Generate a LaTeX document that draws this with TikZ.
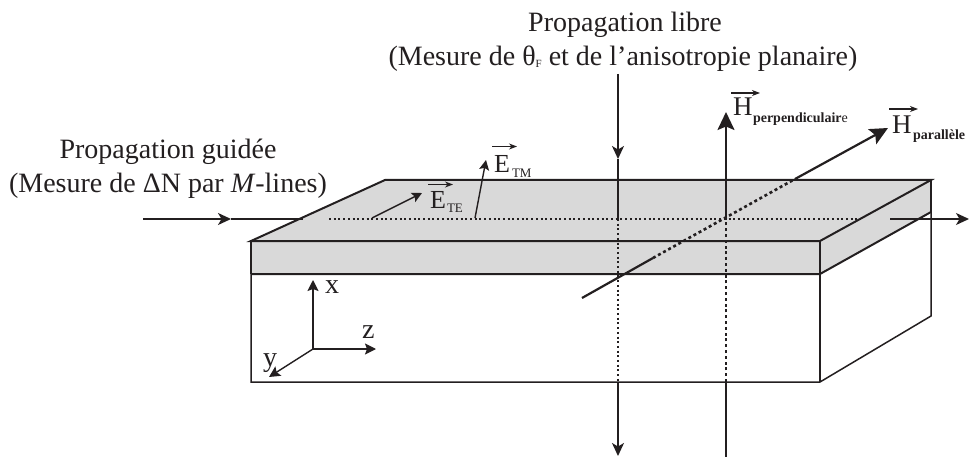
\documentclass[tikz,border=0pt]{standalone}
\usepackage{fontspec}
\setmainfont{Liberation Serif}
\usetikzlibrary{arrows.meta}
\definecolor{ink}{HTML}{231F20}
\definecolor{layer}{HTML}{D9D9D9}
\tikzset{
  x=1pt,y=-1pt,
  every node/.style={inner sep=0pt,outer sep=0pt,text=ink},
  edge/.style={draw=ink,line width=2pt},
  thinedge/.style={draw=ink,line width=1.5pt},
  ray/.style={draw=ink,line width=1.5pt},
  rayhead/.style={ray,-{Stealth[length=13pt,width=12pt,inset=3.5pt]}},
  field/.style={draw=ink,line width=2.2pt},
  fieldhead/.style={field,-{Stealth[length=18pt,width=17pt,inset=3.5pt]}},
  small/.style={draw=ink,line width=1.4pt,-{Stealth[length=10pt,width=10pt,inset=2pt]}},
  axis/.style={draw=ink,line width=1.4pt,-{Stealth[length=11pt,width=11pt,inset=2pt]}},
  rayopen/.style={draw=ink,line width=1.2pt,-{Stealth[length=8pt,width=6pt,inset=2.5pt]}},
  dotray/.style={draw=ink,line width=1.7pt,dash pattern=on 2pt off 2.7pt},
  dotfield/.style={draw=ink,line width=2.6pt,dash pattern=on 3pt off 2.8pt},
  lbl/.style={anchor=base,font=\fontsize{28}{28}\selectfont},
  axl/.style={anchor=base west,font=\fontsize{28}{28}\selectfont},
  sym/.style={anchor=base west,font=\fontsize{26}{26}\selectfont},
  symh/.style={anchor=base west,font=\fontsize{27}{27}\selectfont},
  sub/.style={anchor=base west,font=\fontsize{13}{13}\selectfont},
  subb/.style={anchor=base west,font=\fontsize{14}{14}\selectfont\bfseries}
}
\begin{document}
\begin{tikzpicture}
\useasboundingbox (0,0) rectangle (969,457);
% block corners
\coordinate (fl) at (251,241);
\coordinate (bl) at (385,180);
\coordinate (br) at (931,180);
\coordinate (fr) at (820,241);
\coordinate (flm) at (251,274);
\coordinate (frm) at (820,274);
\coordinate (brm) at (931,212);
\coordinate (flb) at (251,382);
\coordinate (frb) at (820,382);
\coordinate (brb) at (931,316);
% grey layer
\fill[layer] (fl) -- (bl) -- (br) -- (brm) -- (frm) -- (flm) -- cycle;
% guided ray
\coordinate (gin) at (143,219);
\coordinate (gmid) at (231,219);
\coordinate (gedge) at (303,219);
\coordinate (gdot) at (329,219);
\coordinate (gend) at (857,219);
\coordinate (gout) at (890,219);
\coordinate (gtip) at (969,219);
\draw[rayhead] (gin) -- (gmid);
\draw[ray] (gmid) -- (gedge);
\draw[dotray] (gdot) -- (gend);
\draw[rayhead] (gout) -- (gtip);
% free ray
\coordinate (fa) at (618,74);
\coordinate (fb) at (618,159);
\coordinate (fc) at (618,219);
\coordinate (fd) at (618,382);
\coordinate (fe) at (618,456);
\draw[rayhead] (fa) -- (fb);
\draw[ray] (fb) -- (fc);
\draw[dotray] (fc) -- (fd);
\draw[rayhead] (fd) -- (fe);
% H perpendicular
\coordinate (pa) at (726,457);
\coordinate (pb) at (726,382);
\coordinate (pc) at (726,219);
\coordinate (pd) at (726,112);
\draw[field] (pa) -- (pb);
\draw[dotfield] (pb) -- (pc);
\draw[fieldhead] (pc) -- (pd);
% H parallel
\coordinate (ha) at (582,298);
\coordinate (hb) at (653,258);
\coordinate (hc) at (795,179);
\coordinate (hd) at (888,128);
\draw[field] (ha) -- (hb);
\draw[dotfield] (hb) -- (hc);
\draw[fieldhead] (hc) -- (hd);
% block edges
\draw[edge,line join=miter] (fl) -- (bl) -- (br) -- (fr) -- cycle;
\draw[edge] (br) -- (brm);
\draw[edge] (fr) -- (frm);
\draw[edge] (fl) -- (flm);
\draw[edge] (flm) -- (frm) -- (brm);
\draw[thinedge] (flm) -- (flb) -- (frb) -- (brb) -- (brm);
\draw[thinedge] (frm) -- (frb);
% E fields
\coordinate (tea) at (372,218);
\coordinate (teb) at (422,193);
\coordinate (tma) at (475,218);
\coordinate (tmb) at (486,160);
\draw[small] (tea) -- (teb);
\draw[small] (tma) -- (tmb);
% axes
\coordinate (o) at (313,349);
\coordinate (ax) at (313,280);
\coordinate (az) at (376,349);
\coordinate (ay) at (269,377);
\draw[axis] (o) -- (ax);
\draw[axis] (o) -- (az);
\draw[axis] (o) -- (ay);
\node[axl] (lx) at (325,293) {x};
\node[axl] (lz) at (362,338) {z};
\node[axl] (ly) at (263,366) {y};
% labels
\node[lbl] (t1) at (625,32) {Propagation libre};
\node[lbl] (t2) at (623,66) {(Mesure de θ\raisebox{-2pt}{\fontsize{11}{11}\selectfont F} et de l’anisotropie planaire)};
\node[lbl] (t3) at (168,159) {Propagation guidée};
\node[lbl] (t4) at (168,193) {(Mesure de ΔN par \textit{M}-lines)};
% vector labels
\node[sym] (ete) at (430,209) {E};
\node[sub] (etes) at (447,213) {TE};
\coordinate (ate1) at (428,184.5); \coordinate (ate2) at (453,184.5);
\draw[rayopen] (ate1) -- (ate2);
\node[sym] (etm) at (494,173) {E};
\node[sub] (etms) at (512,178) {TM};
\coordinate (atm1) at (492,146.5); \coordinate (atm2) at (517,146.5);
\draw[rayopen] (atm1) -- (atm2);
\node[symh] (hp) at (733,116) {H};
\node[subb] (hps) at (753,123) {perpendiculair\textmd{e}};
\coordinate (ahp1) at (731,93); \coordinate (ahp2) at (760,93);
\draw[rayopen] (ahp1) -- (ahp2);
\node[symh] (hl) at (892,134) {H};
\node[subb] (hls) at (913,140) {parallèle};
\coordinate (ahl1) at (889,109); \coordinate (ahl2) at (918,109);
\draw[rayopen] (ahl1) -- (ahl2);
\end{tikzpicture}
\end{document}
